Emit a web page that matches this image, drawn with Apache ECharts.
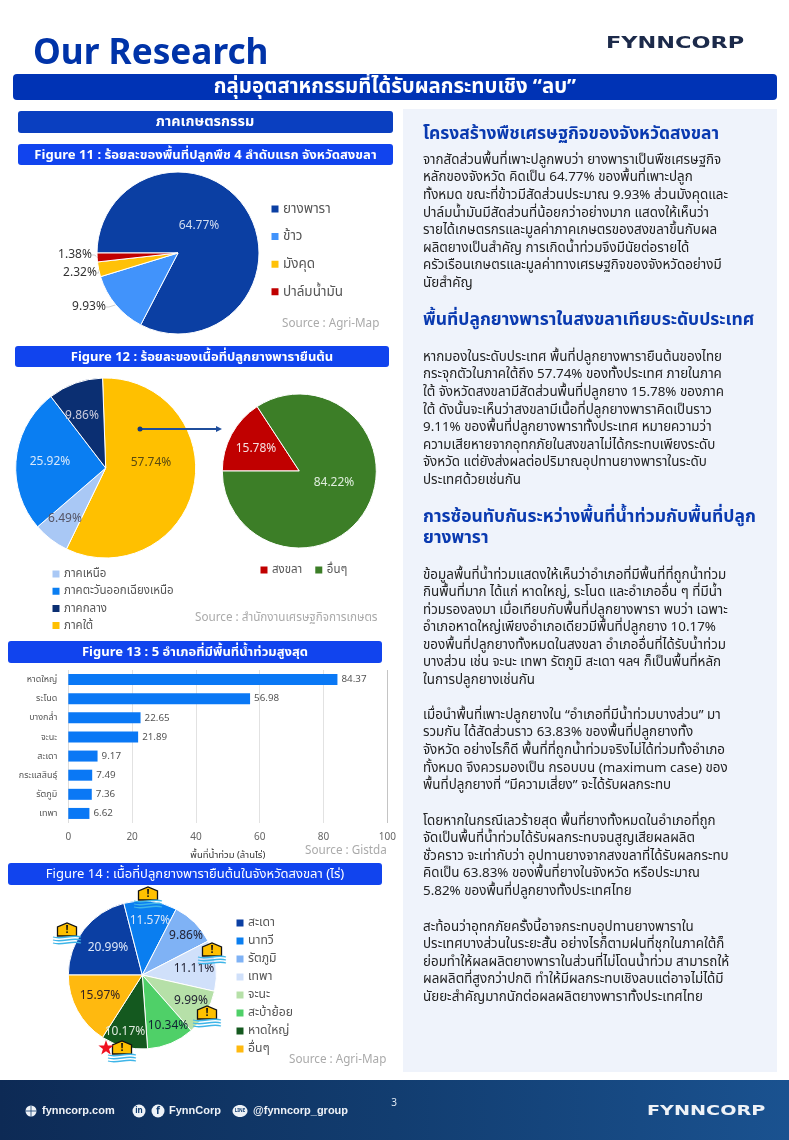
<!DOCTYPE html>
<html><head><meta charset="utf-8">
<style>html,body{margin:0;padding:0;background:#fff}#c{width:789px;height:1140px}</style>
<script src="https://cdn.jsdelivr.net/npm/echarts@6/dist/echarts.min.js"></script>
</head><body><div id="c"></div>
<script>
const FF = '"Noto Sans","Noto Sans Thai","Noto Sans Thai Looped",sans-serif';
// Figure 11
const f11Names = ['ยางพารา','ข้าว','มังคุด','ปาล์มน้ำมัน'];
const f11Values = [64.77,9.93,2.32,1.38];
const f11Colors = ['#0b3fa3','#4193fb','#ffc107','#c00000'];
// Figure 12 left
const f12Names = ['ภาคใต้','ภาคเหนือ','ภาคตะวันออกเฉียงเหนือ','ภาคกลาง'];
const f12Values = [57.74,6.49,25.92,9.86];
const f12Colors = ['#ffc000','#a9c8f5','#0a7ef2','#0b2f72'];
const f12LegendOrder = ['ภาคเหนือ','ภาคตะวันออกเฉียงเหนือ','ภาคกลาง','ภาคใต้'];
// Figure 12 right
const f12bNames = ['สงขลา','อื่นๆ'];
const f12bValues = [15.78,84.22];
const f12bColors = ['#c00000','#3c7e27'];
// Figure 13
const f13Cats = ['หาดใหญ่','ระโนด','บางกล่ำ','จะนะ','สะเดา','กระแสสินธุ์','รัตภูมิ','เทพา'];
const f13Values = [84.37,56.98,22.65,21.89,9.17,7.49,7.36,6.62];
// Figure 14
const f14Names = ['สะเดา','นาทวี','รัตภูมิ','เทพา','จะนะ','สะบ้าย้อย','หาดใหญ่','อื่นๆ'];
const f14Values = [20.99,11.57,9.86,11.11,9.99,10.34,10.17,15.97];
const f14Colors = ['#0b3fa3','#0a7ef0','#7fb2f5','#d0e0fa','#b6e0a8','#4fd068','#14591f','#ffb90f'];
// Text
const p1 = ['จากสัดส่วนพื้นที่เพาะปลูกพบว่า ยางพาราเป็นพืชเศรษฐกิจ','หลักของจังหวัด คิดเป็น 64.77% ของพื้นที่เพาะปลูก','ทั้งหมด ขณะที่ข้าวมีสัดส่วนประมาณ 9.93% ส่วนมังคุดและ','ปาล์มน้ำมันมีสัดส่วนที่น้อยกว่าอย่างมาก แสดงให้เห็นว่า','รายได้เกษตรกรและมูลค่าภาคเกษตรของสงขลาขึ้นกับผล','ผลิตยางเป็นสำคัญ การเกิดน้ำท่วมจึงมีนัยต่อรายได้','ครัวเรือนเกษตรและมูลค่าทางเศรษฐกิจของจังหวัดอย่างมี','นัยสำคัญ'];
const p2 = ['หากมองในระดับประเทศ พื้นที่ปลูกยางพารายืนต้นของไทย','กระจุกตัวในภาคใต้ถึง 57.74% ของทั้งประเทศ ภายในภาค','ใต้ จังหวัดสงขลามีสัดส่วนพื้นที่ปลูกยาง 15.78% ของภาค','ใต้ ดังนั้นจะเห็นว่าสงขลามีเนื้อที่ปลูกยางพาราคิดเป็นราว','9.11% ของพื้นที่ปลูกยางพาราทั้งประเทศ หมายความว่า','ความเสียหายจากอุทกภัยในสงขลาไม่ได้กระทบเพียงระดับ','จังหวัด แต่ยังส่งผลต่อปริมาณอุปทานยางพาราในระดับ','ประเทศด้วยเช่นกัน'];
const p3 = ['ข้อมูลพื้นที่น้ำท่วมแสดงให้เห็นว่าอำเภอที่มีพื้นที่ที่ถูกน้ำท่วม','กินพื้นที่มาก ได้แก่ หาดใหญ่, ระโนด และอำเภออื่น ๆ ที่มีน้ำ','ท่วมรองลงมา เมื่อเทียบกับพื้นที่ปลูกยางพารา พบว่า เฉพาะ','อำเภอหาดใหญ่เพียงอำเภอเดียวมีพื้นที่ปลูกยาง 10.17%','ของพื้นที่ปลูกยางทั้งหมดในสงขลา อำเภออื่นที่ได้รับน้ำท่วม','บางส่วน เช่น จะนะ เทพา รัตภูมิ สะเดา ฯลฯ ก็เป็นพื้นที่หลัก','ในการปลูกยางเช่นกัน'];
const p4 = ['เมื่อนำพื้นที่เพาะปลูกยางใน “อำเภอที่มีน้ำท่วมบางส่วน” มา','รวมกัน ได้สัดส่วนราว 63.83% ของพื้นที่ปลูกยางทั้ง','จังหวัด อย่างไรก็ดี พื้นที่ที่ถูกน้ำท่วมจริงไม่ได้ท่วมทั้งอำเภอ','ทั้งหมด จึงควรมองเป็น กรอบบน (maximum case) ของ','พื้นที่ปลูกยางที่ “มีความเสี่ยง” จะได้รับผลกระทบ'];
const p5 = ['โดยหากในกรณีเลวร้ายสุด พื้นที่ยางทั้งหมดในอำเภอที่ถูก','จัดเป็นพื้นที่น้ำท่วมได้รับผลกระทบจนสูญเสียผลผลิต','ชั่วคราว จะเท่ากับว่า อุปทานยางจากสงขลาที่ได้รับผลกระทบ','คิดเป็น 63.83% ของพื้นที่ยางในจังหวัด หรือประมาณ','5.82% ของพื้นที่ปลูกยางทั้งประเทศไทย'];
const p6 = ['สะท้อนว่าอุทกภัยครั้งนี้อาจกระทบอุปทานยางพาราใน','ประเทศบางส่วนในระยะสั้น อย่างไรก็ตามฝนที่ชุกในภาคใต้ก็','ย่อมทำให้ผลผลิตยางพาราในส่วนที่ไม่โดนน้ำท่วม สามารถให้','ผลผลิตที่สูงกว่าปกติ ทำให้มีผลกระทบเชิงลบแต่อาจไม่ได้มี','นัยยะสำคัญมากนักต่อผลผลิตยางพาราทั้งประเทศไทย'];

const g = [];
const rect=(x,y,w,h,fill,r=3)=>g.push({type:'rect',silent:true,shape:{x,y,width:w,height:h,r},style:{fill}});
const txt=(text,x,y,size,fill,o={})=>g.push({type:'text',silent:true,z:o.z||10,scaleX:o.sx||1,x:o.sx?x:0,y:0,style:{text,x:o.sx?0:x,y,font:`${o.w||'normal'} ${size}px ${o.ff||FF}`,fill,align:o.a||'left',verticalAlign:'middle'}});

rect(403,109,374,963,'#eff3fb',0);
rect(13,74,764,26,'#0033b5',4);
txt('Our Research',33,54,35.2,'#0033a8',{w:'bold'});
txt('FYNNCORP',606,44,16,'#1c2a4a',{w:'900',sx:1.4,ff:'"DejaVu Sans"'});
txt('กลุ่มอุตสาหกรรมที่ได้รับผลกระทบเชิง “ลบ”',395,87,20.4,'#fff',{w:'bold',a:'center'});
rect(18,111,375,22,'#0a3fc0');
txt('ภาคเกษตรกรรม',205,122,14.4,'#fff',{w:'bold',a:'center'});
rect(18,144,375,21,'#1144ee');
txt('Figure 11 : ร้อยละของพื้นที่ปลูกพืช 4 ลำดับแรก จังหวัดสงขลา',205.5,155,13.1,'#fff',{w:'bold',a:'center'});
rect(15,346,374,21,'#1144ee');
txt('Figure 12 : ร้อยละของเนื้อที่ปลูกยางพารายืนต้น',202,357,13,'#fff',{w:'bold',a:'center'});
rect(8,641,374,22,'#1144ee');
txt('Figure 13 : 5 อำเภอที่มีพื้นที่น้ำท่วมสูงสุด',195,652,13,'#fff',{w:'bold',a:'center'});
rect(8,863,374,22,'#1144ee');
txt('Figure 14 : เนื้อที่ปลูกยางพารายืนต้นในจังหวัดสงขลา (ไร่)',195,874,13,'#fff',{a:'center'});

const src='#aaaaaa';
txt('Source : Agri-Map',282,324,11.7,src);
txt('Source : สำนักงานเศรษฐกิจการเกษตร',195,618,11.7,src);
txt('Source : Gistda',305,851,11.7,src);
txt('Source : Agri-Map',289,1060,11.7,src);

const head='#0a3ab0', body='#222';
txt('โครงสร้างพืชเศรษฐกิจของจังหวัดสงขลา',423,134,17.5,head,{w:'bold'});
txt('พื้นที่ปลูกยางพาราในสงขลาเทียบระดับประเทศ',423,320,17.5,head,{w:'bold'});
txt('การซ้อนทับกันระหว่างพื้นที่น้ำท่วมกับพื้นที่ปลูก',423,517,17.5,head,{w:'bold'});
txt('ยางพารา',423,538,17.5,head,{w:'bold'});
const para=(lines,y0,st)=>lines.forEach((l,i)=>txt(l,423,y0+i*st,13.4,body));
para(p1,160,17.6);para(p2,357,17.6);para(p3,575,17.5);para(p4,715,17.6);para(p5,821,17.5);para(p6,927,17.5);

// arrow between pies
g.push({type:'line',silent:true,z:20,shape:{x1:140,y1:429,x2:219,y2:429},style:{stroke:'#1f4e9c',lineWidth:2}});
g.push({type:'circle',silent:true,z:20,shape:{cx:140,cy:429,r:2.5},style:{fill:'#123a80'}});
g.push({type:'polygon',silent:true,z:20,shape:{points:[[216,426],[222,429],[216,432]]},style:{fill:'#1f4e9c'}});

// flood icons
function icon(x,y){
  g.push({type:'polygon',silent:true,z:30,shape:{points:[[x-9.5,y+6],[x-9.5,y-3],[x,y-7],[x+9.5,y-3],[x+9.5,y+6]]},style:{fill:'#ffc000',stroke:'#111',lineWidth:1.3}});
  txt('!',x,y,11,'#111',{w:'bold',a:'center',z:31});
  [7,10,13].forEach(d=>{
    g.push({type:'bezierCurve',silent:true,z:30,shape:{x1:x-14,y1:y+d,x2:x+14,y2:y+d,cpx1:x-5,cpy1:y+d+3,cpx2:x+5,cpy2:y+d-3},style:{stroke:'#3eb5e8',lineWidth:1.3,fill:'none'}});
  });
}
icon(67,930);icon(148,894);icon(212,950);icon(207,1013);icon(122,1048);
const starPts=[];for(let i=0;i<10;i++){const r=i%2?3.2:8,a=-Math.PI/2+i*Math.PI/5;starPts.push([106+r*Math.cos(a),1048+r*Math.sin(a)]);}
g.push({type:'polygon',silent:true,z:32,shape:{points:starPts},style:{fill:'#f01020'}});

// footer
g.push({type:'rect',silent:true,z:1,shape:{x:0,y:1080,width:789,height:60},style:{fill:{type:'linear',x:0,y:0,x2:1,y2:0,colorStops:[{offset:0,color:'#0d2a55'},{offset:.5,color:'#123d70'},{offset:1,color:'#1a5290'}]}}});
const fw='#eef2f7';
const dot=(x,r)=>g.push({type:'circle',silent:true,z:5,shape:{cx:x,cy:1111,r},style:{fill:fw}});
dot(31,5.5);dot(139,6.5);dot(158,6.5);
g.push({type:'line',silent:true,z:6,shape:{x1:25.5,y1:1111,x2:36.5,y2:1111},style:{stroke:'#123d70',lineWidth:.8}});
g.push({type:'line',silent:true,z:6,shape:{x1:31,y1:1105.5,x2:31,y2:1116.5},style:{stroke:'#123d70',lineWidth:.8}});
g.push({type:'ellipse',silent:true,z:5,shape:{cx:240,cy:1111,rx:7.5,ry:6},style:{fill:fw}});
txt('LINE',240,1111,4.5,'#123d70',{w:'bold',a:'center'});
txt('in',139,1111,8,'#123d70',{w:'bold',a:'center'});
txt('f',158,1111,10,'#123d70',{w:'bold',a:'center'});
txt('fynncorp.com',42,1111,11,fw,{w:'bold',ff:'"Liberation Sans"'});
txt('FynnCorp',169,1111,11,fw,{w:'bold',ff:'"Liberation Sans"'});
txt('@fynncorp_group',253,1111,11,fw,{w:'bold',ff:'"Liberation Sans"'});
txt('3',394,1103,10,'#dfe8f2',{a:'center'});
txt('FYNNCORP',647,1111,13.5,fw,{w:'900',sx:1.42,ff:'"DejaVu Sans"'});

// label placement
const place = (spots)=>(p)=>{const s=spots[p.dataIndex];return {x:s[0],y:s[1],align:'center',verticalAlign:'middle'};};
const lblFont = {fontFamily:FF,fontSize:12};
const pie=(name,names,vals,cols,center,r,start,spots,lblCols,outside)=>({
  type:'pie',name,center,radius:[0,r],startAngle:start,clockwise:true,animation:false,silent:true,
  itemStyle:{borderColor:'#fff',borderWidth:1},
  label:{show:true,position:outside?'outside':'inside',...lblFont,formatter:p=>p.value.toFixed(2)+'%'},
  labelLine:{show:!!outside,length:3,length2:3,lineStyle:{color:'#bbb',width:.7}},
  labelLayout:place(spots),
  data:names.map((n,i)=>({name:n,value:vals[i],itemStyle:{color:cols[i]},label:{color:lblCols[i]}}))
});
const legend=(names,lookup,left,top,orient,gap,fs)=>({
  show:true,selectedMode:false,orient,left,top,padding:0,itemWidth:9,itemHeight:9,itemGap:gap,icon:'rect',
  textStyle:{fontFamily:FF,fontSize:fs,color:'#555',padding:[0,0,0,-1.5]},
  data:names.map(n=>({name:n,itemStyle:{color:lookup[n]}}))
});
const mapOf=(n,c)=>Object.fromEntries(n.map((k,i)=>[k,c[i]]));

const option={
  animation:false,
  legend:[
    legend(f11Names,mapOf(f11Names,f11Colors),269.5,202,'vertical',13.6,13.5),
    legend(f12LegendOrder,mapOf(f12Names,f12Colors),50.5,568,'vertical',5.2,11.5),
    legend(f12bNames,mapOf(f12bNames,f12bColors),258.5,564,'horizontal',11,11.5),
    legend(f14Names,mapOf(f14Names,f14Colors),234.5,917,'vertical',6,12.2)
  ],
  grid:{left:68.3,top:670,width:319,height:153,containLabel:false},
  xAxis:{type:'value',min:0,max:100,interval:20,
    name:'พื้นที่น้ำท่วม (ล้านไร่)',nameLocation:'middle',nameGap:27,nameTextStyle:{fontFamily:FF,fontSize:9.5,color:'#333'},
    axisLine:{show:false},axisTick:{show:false},
    axisLabel:{fontFamily:FF,fontSize:10,color:'#666',margin:9},
    splitLine:{show:true,lineStyle:{color:['#dddddd','#e2e2e2','#e2e2e2','#e2e2e2','#e2e2e2','#c4c4c4'],width:1}}},
  yAxis:{type:'category',data:f13Cats,inverse:true,axisLine:{show:false},axisTick:{show:false},
    axisLabel:{fontFamily:FF,fontSize:9,color:'#555',margin:11}},
  series:[
    pie('f11',f11Names,f11Values,f11Colors,[178,253],81,180,[[199,226],[89,307],[80,273],[75,255]],['#d0dcf0','#333','#333','#333'],true),
    pie('f12',f12Names,f12Values,f12Colors,[105.7,468],90,92,[[151,463],[65,519],[50,462],[82,416]],['#5a4a10','#556','#d8e8fb','#ccd'],false),
    pie('f12b',f12bNames,f12bValues,f12bColors,[299.3,471],77,180,[[256,449],[334,483]],['#f5e0e0','#dfeedd'],false),
    {type:'bar',data:f13Values,barWidth:11,silent:true,itemStyle:{color:'#0a78f5'},
      label:{show:true,position:'right',distance:4,fontFamily:FF,fontSize:9.8,color:'#555',formatter:p=>p.value.toFixed(2)}},
    pie('f14',f14Names,f14Values,f14Colors,[142.3,975],74,180,[[108,948],[150,921],[186,936],[194,969],[191,1001],[168,1026],[125,1032],[100,996]],['#dbe6f8','#dbe6f8','#223','#223','#223','#123','#dfeadf','#322'],false)
  ],
  graphic:{elements:g}
};
const chart=echarts.init(document.getElementById('c'));
chart.setOption(option);
</script></body></html>
